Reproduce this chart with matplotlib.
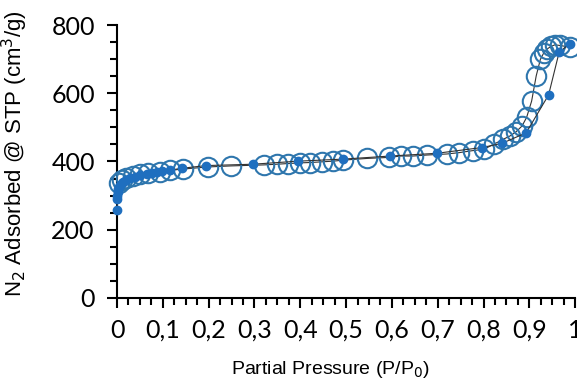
import matplotlib
matplotlib.use("Agg")
import matplotlib.pyplot as plt
from matplotlib.ticker import MultipleLocator, FixedLocator

# adsorption branch (filled points)
ads_p = [0.0002, 0.0005, 0.001, 0.002, 0.003, 0.005, 0.007, 0.01, 0.014, 0.02,
         0.028, 0.04, 0.05, 0.065, 0.076, 0.087, 0.098, 0.116, 0.141, 0.194,
         0.296, 0.396, 0.494, 0.596, 0.698, 0.797, 0.84, 0.893, 0.942, 0.965, 0.988]
ads_v = [258, 290, 300, 310, 318, 325, 331, 337, 341, 346,
         351, 356, 360, 364, 367, 370, 372, 375, 380, 388,
         392, 401, 407, 416, 424, 441, 453, 484, 595, 720, 745]

# desorption branch (open circles)
des_p = [0.989, 0.967, 0.956, 0.947, 0.938, 0.931, 0.924, 0.915, 0.905, 0.894,
         0.884, 0.871, 0.858, 0.843, 0.823, 0.801, 0.777, 0.747, 0.72, 0.677,
         0.646, 0.619, 0.594, 0.546, 0.494, 0.472, 0.447, 0.421, 0.40, 0.373,
         0.349, 0.32, 0.248, 0.199, 0.145, 0.116, 0.094, 0.068, 0.05, 0.035,
         0.02, 0.01, 0.005]
des_v = [735, 740, 742, 737, 729, 717, 699, 651, 577, 529,
         504, 487, 475, 465, 451, 436, 432, 426, 422, 419,
         416, 416, 412, 409, 404, 401, 399, 397, 396, 394,
         392, 390, 387, 384, 378, 374, 370, 366, 362, 357,
         352, 345, 338]

x_ticks = [0, 0.1, 0.2, 0.3, 0.4, 0.5, 0.6, 0.7, 0.8, 0.9, 1.0]
x_labels = ["0", "0,1", "0,2", "0,3", "0,4", "0,5", "0,6", "0,7", "0,8", "0,9", "1"]
y_ticks = [0, 200, 400, 600, 800]

fig = plt.figure(figsize=(5.77, 3.87), dpi=100)
ax = fig.add_axes([0.2028, 0.23, 0.794, 0.7054])

open_col = "#2e76ad"
fill_col = "#1f6fbf"
line_col = "#333333"

ax.plot(des_p, des_v, color=line_col, lw=0.8, zorder=2, clip_on=False)
ax.plot(des_p, des_v, ls="none", marker="o", ms=14, mfc="none", mec=open_col,
        mew=1.5, zorder=3, clip_on=False)
ax.plot(ads_p, ads_v, color=line_col, lw=0.8, zorder=4, clip_on=False)
ax.plot(ads_p, ads_v, ls="none", marker="o", ms=6, mfc=fill_col, mec=fill_col,
        zorder=5, clip_on=False)

ax.set_xlim(0, 1)
ax.set_ylim(0, 800)

ax.xaxis.set_major_locator(FixedLocator(x_ticks))
ax.xaxis.set_minor_locator(MultipleLocator(0.025))
ax.set_xticklabels(x_labels)
ax.yaxis.set_major_locator(FixedLocator(y_ticks))
ax.yaxis.set_minor_locator(MultipleLocator(50))

for side in ["top", "right"]:
    ax.spines[side].set_visible(False)
for side in ["left", "bottom"]:
    ax.spines[side].set_linewidth(1.5)

ax.tick_params(which="major", length=7, width=1.5, direction="out")
ax.tick_params(which="minor", length=5, width=1.5, direction="out")
ax.tick_params(axis="x", which="major", pad=8)
ax.tick_params(axis="y", which="major", pad=9)

for lab in ax.get_xticklabels() + ax.get_yticklabels():
    lab.set_fontfamily("Lato")
    lab.set_fontsize(18)

ax.set_ylabel("N$_2$ Adsorbed @ STP (cm$^3$/g)", family="Liberation Sans",
              fontsize=16)
ax.set_xlabel("Partial Pressure (P/P$_0$)", family="Liberation Sans",
              fontsize=14)
ax.yaxis.set_label_coords(-0.19, 0.53)
ax.xaxis.set_label_coords(0.465, -0.225)

fig.savefig("out.png", dpi=100)
